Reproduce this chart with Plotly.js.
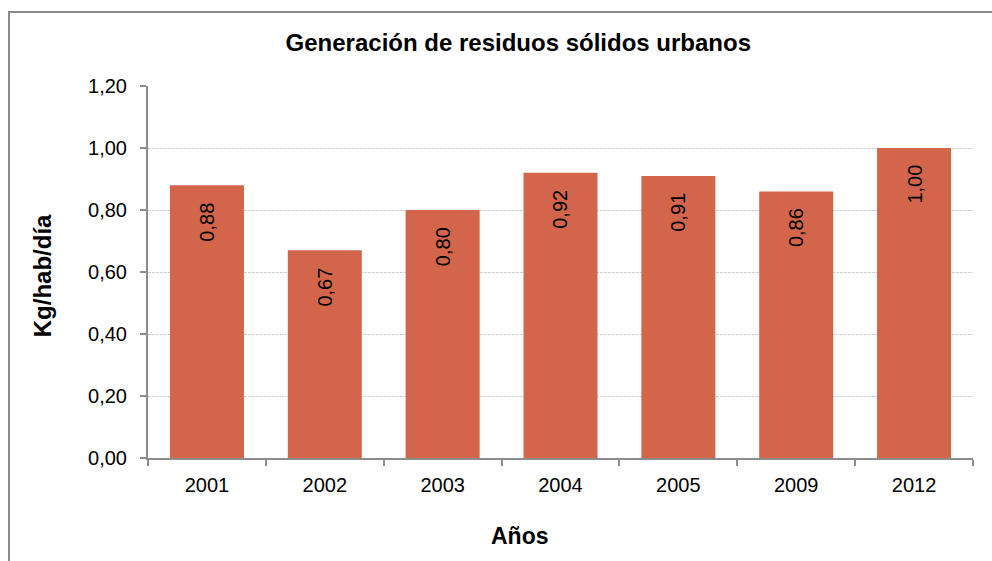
<!DOCTYPE html>
<html>
<head>
<meta charset="utf-8">
<script src="https://cdn.plot.ly/plotly-3.0.1.min.js"></script>
<style>
  html, body { margin: 0; padding: 0; overflow: hidden; background: #fff; }
  #chart { width: 992px; height: 561px; position: absolute; left: 0; top: 0; }
  #frame { position: absolute; left: 8px; top: 11px; width: 1200px; height: 800px;
           border: 2px solid #8a8a8a; pointer-events: none; box-sizing: border-box; }
</style>
</head>
<body>
<div id="chart"></div>
<div id="frame"></div>
<script>
const years = ["2001", "2002", "2003", "2004", "2005", "2009", "2012"];
const values = [0.88, 0.67, 0.80, 0.92, 0.91, 0.86, 1.00];
const chartTitle = "Generación de residuos sólidos urbanos";
const yTitle = "Kg/hab/día";
const xTitle = "Años";

const FONT = "Liberation Sans, Arial, Helvetica, sans-serif";
const fmt = v => v.toFixed(2).replace(".", ",");

const trace = {
  type: "bar",
  x: years,
  y: values,
  marker: { color: "#D2654A" },
  hoverinfo: "x+y"
};

// on a category axis, annotation x is the category's serial index
const labelAnnotations = years.map((yr, i) => ({
  x: i, y: values[i], xref: "x", yref: "y",
  text: fmt(values[i]),
  textangle: -90,
  showarrow: false,
  xanchor: "center", yanchor: "top",
  yshift: -15,
  font: { family: FONT, size: 20, color: "#000" }
}));

const layout = {
  width: 992, height: 561,
  margin: { l: 148, r: 19, t: 86, b: 103 },
  paper_bgcolor: "rgba(0,0,0,0)",
  plot_bgcolor: "rgba(0,0,0,0)",
  separators: ",.",
  showlegend: false,
  bargap: 0.372,
  font: { family: FONT, size: 20, color: "#000" },
  title: {
    text: chartTitle,
    xref: "container", yref: "container",
    x: 0.5225, y: 0.9234, xanchor: "center", yanchor: "middle",
    font: { family: FONT, size: 24, weight: "bold", color: "#000" }
  },
  xaxis: {
    type: "category",
    range: [-0.5, years.length - 0.5],
    showline: true, linecolor: "#8c8c8c", linewidth: 2,
    ticks: "outside", tickson: "boundaries", ticklen: 6, tickcolor: "#8c8c8c", tickwidth: 2,
    ticklabelstandoff: 8,
    showgrid: false, zeroline: false,
    tickfont: { family: FONT, size: 20, color: "#000" }
  },
  yaxis: {
    range: [0, 1.2],
    tickvals: [0, 0.2, 0.4, 0.6, 0.8, 1.0, 1.2],
    tickformat: ".2f",
    showline: true, linecolor: "#8c8c8c", linewidth: 2,
    ticks: "outside", ticklen: 6, tickcolor: "#8c8c8c", tickwidth: 2,
    ticklabelstandoff: 9,
    showgrid: true, gridcolor: "#d0d0d0", gridwidth: 1, griddash: "3px,1px",
    zeroline: false,
    tickfont: { family: FONT, size: 20, color: "#000" }
  },
  annotations: labelAnnotations.concat([
    {
      text: yTitle, xref: "paper", yref: "paper",
      x: -0.1279, y: 0.4898, xanchor: "center", yanchor: "middle",
      textangle: -90, showarrow: false,
      font: { family: FONT, size: 24, weight: "bold", color: "#000" }
    },
    {
      text: xTitle, xref: "paper", yref: "paper",
      x: 0.451, y: -0.2097, xanchor: "center", yanchor: "middle",
      showarrow: false,
      font: { family: FONT, size: 23, weight: "bold", color: "#000" }
    }
  ])
};

Plotly.newPlot("chart", [trace], layout, { displayModeBar: false, staticPlot: true });
</script>
</body>
</html>
